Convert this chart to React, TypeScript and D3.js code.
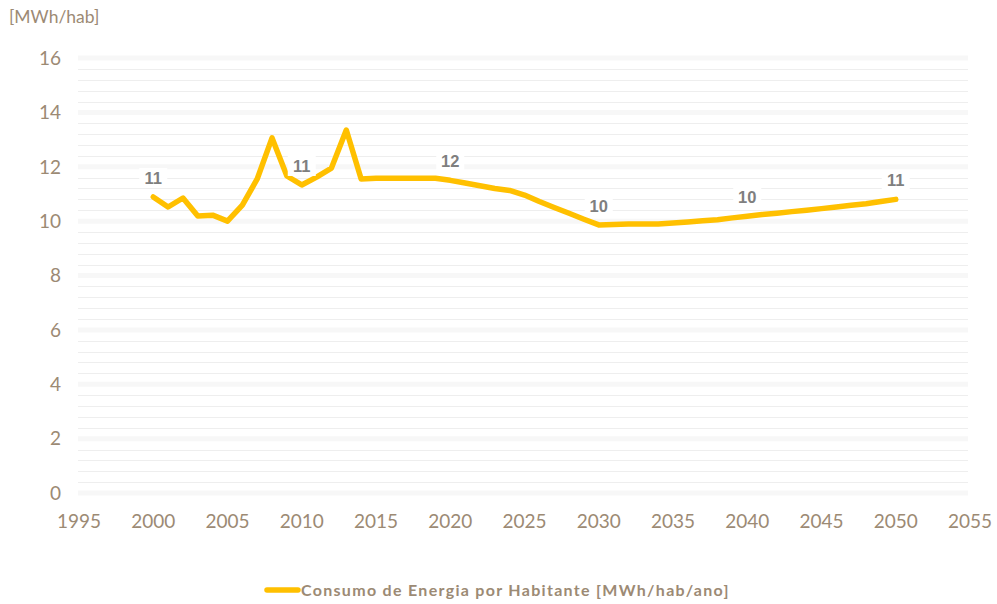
import * as d3 from 'd3'

const years = d3.range(2000, 2051)
const consumo = [
  10.89, 10.52, 10.85, 10.19, 10.22, 10.0, 10.59, 11.55, 13.06, 11.66,
  11.33, 11.62, 11.95, 13.35, 11.55, 11.58, 11.58, 11.58, 11.58, 11.58,
  11.5, 11.4, 11.3, 11.2, 11.13, 10.96, 10.72, 10.5, 10.29, 10.07,
  9.86, 9.88, 9.89, 9.89, 9.89, 9.93, 9.97, 10.01, 10.05, 10.12,
  10.18, 10.24, 10.29, 10.35, 10.4, 10.46, 10.52, 10.58, 10.64, 10.72, 10.8,
]
const labelYears = [2000, 2010, 2020, 2030, 2040, 2050]
const xTicks = d3.range(1995, 2056, 5)
const yTicks = d3.range(0, 17, 2)
const minorTicks = d3.range(0, 16.01, 0.4)

const W = 997
const H = 604
const left = 78
const right = 968
const top = 58
const bottom = 493

const axisColor = '#9c8a74'
const font = 'Lato, "Noto Sans", sans-serif'

export default function App() {
  const x = d3.scaleLinear().domain([1995, 2055]).range([79, 970])
  const y = d3.scaleLinear().domain([0, 16]).range([bottom, top])
  const pts = years.map((yr, i) => ({ yr, v: consumo[i] }))
  const line = d3.line<{ yr: number; v: number }>()
    .x(d => x(d.yr))
    .y(d => y(d.v))

  return (
    <svg width={W} height={H} style={{ position: 'absolute', left: 0, top: 0, background: '#fff' }}>
      {minorTicks.map(t => (
        <line key={'m' + t} x1={left} x2={right} y1={Math.round(y(t)) + 0.5} y2={Math.round(y(t)) + 0.5}
          stroke="#eeeeee" strokeWidth={1} />
      ))}
      {yTicks.map(t => (
        <line key={'g' + t} x1={left} x2={right} y1={y(t)} y2={y(t)} stroke="#f7f7f7" strokeWidth={5} />
      ))}
      {yTicks.map(t => (
        <text key={'y' + t} x={61} y={y(t)} dy="0.36em" textAnchor="end" fontFamily={font}
          fontSize={19} fill={axisColor}>{t}</text>
      ))}
      {xTicks.map(t => (
        <text key={'x' + t} x={x(t)} y={528} textAnchor="middle" fontFamily={font}
          fontSize={19} fill={axisColor}>{t}</text>
      ))}
      <text x={9} y={23} fontFamily={font} fontSize={17.5} fill={axisColor}>[MWh/hab]</text>
      <path d={line(pts) ?? ''} fill="none" stroke="#ffc000" strokeWidth={5.5}
        strokeLinejoin="round" strokeLinecap="round" />
      {labelYears.map(yr => {
        const v = consumo[years.indexOf(yr)]
        const cx = x(yr)
        const cy = y(v) - 19
        return (
          <g key={'l' + yr}>
            <rect x={cx - 14} y={cy - 10} width={28} height={20} fill="#fff" />
            <text x={cx} y={cy} dy="0.36em" textAnchor="middle" fontFamily='"Liberation Sans", Arial, sans-serif'
              fontWeight="bold" fontSize={16.5} fill="#7f7f7f">{Math.round(v)}</text>
          </g>
        )
      })}
      <line x1={267} x2={298} y1={590} y2={590} stroke="#ffc000" strokeWidth={5.5} strokeLinecap="round" />
      <text x={301} y={596} fontFamily={font} fontWeight="bold" fontSize={16} fill={axisColor}
        letterSpacing={1.3}>Consumo de Energia por Habitante [MWh/hab/ano]</text>
    </svg>
  )
}
